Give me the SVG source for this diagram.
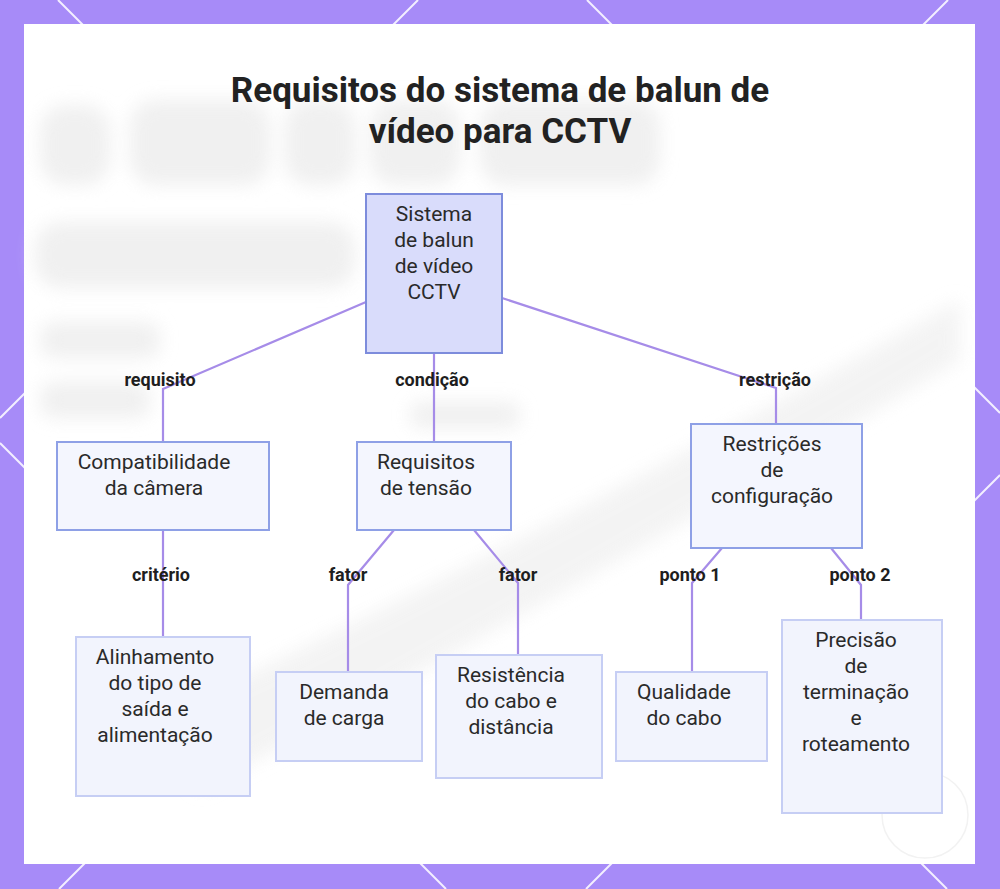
<svg xmlns="http://www.w3.org/2000/svg" width="1000" height="889" viewBox="0 0 1000 889">
<defs>
<style>
.title{font-family:Roboto,"Liberation Sans",sans-serif;font-weight:700;font-size:35px;fill:#222;text-anchor:middle}
.nt{font-family:Roboto,"Liberation Sans",sans-serif;font-size:21px;fill:#2a2a2a;text-anchor:middle}
.lbl{font-family:Roboto,"Liberation Sans",sans-serif;font-weight:700;font-size:18px;fill:#1e1e1e;text-anchor:middle}
.root{fill:#d9dcfb;stroke:#7d8cdc;stroke-width:2}
.mid{fill:#f4f6fe;stroke:#8ea0e6;stroke-width:2}
.leaf{fill:#f2f4fd;stroke:#c6cef4;stroke-width:2}
.edge{fill:none;stroke:#a68ce8;stroke-width:2.2}
.deco{stroke:#f3efff;stroke-width:2;fill:none}
</style>
<filter id="blur" x="-20%" y="-50%" width="140%" height="200%"><feGaussianBlur stdDeviation="9"/></filter>
</defs>
<rect x="0" y="0" width="1000" height="889" fill="#a78bf8"/>
<g class="deco">
<line x1="58" y1="0" x2="947" y2="889"/>
<line x1="418" y1="0" x2="0" y2="418"/>
<line x1="587" y1="0" x2="1000" y2="413"/>
<line x1="948" y1="0" x2="59" y2="889"/>
<line x1="0" y1="443" x2="446" y2="889"/>
<line x1="1000" y1="475" x2="586" y2="889"/>
</g>
<rect x="24" y="24" width="951" height="840" fill="#ffffff"/>
<g filter="url(#blur)" fill="#ebebeb" opacity="0.75">
<rect x="40" y="105" width="70" height="80" rx="25"/>
<rect x="130" y="100" width="140" height="85" rx="25"/>
<rect x="285" y="100" width="70" height="85" rx="25"/>
<rect x="370" y="100" width="90" height="85" rx="25"/>
<rect x="480" y="100" width="180" height="85" rx="25"/>
<rect x="35" y="222" width="320" height="66" rx="25"/>
<rect x="40" y="322" width="120" height="36" rx="14"/>
<rect x="40" y="382" width="110" height="36" rx="14"/>
<rect x="410" y="402" width="110" height="26" rx="10"/>
</g>
<path d="M150 720 Q500 560 960 300 L960 360 Q560 600 200 790 Z" fill="#efefef" filter="url(#blur)" opacity="0.7"/>
<circle cx="925" cy="815" r="43" fill="none" stroke="#f2f2f2" stroke-width="1.5"/>

<text class="title" x="500" y="102">Requisitos do sistema de balun de</text>
<text class="title" x="500" y="143">vídeo para CCTV</text>

<g id="connectors">
<path class="edge" d="M366 302 L163 389 L163 442"/>
<path class="edge" d="M434 353 L434 442"/>
<path class="edge" d="M502 298 L776 388 L776 424"/>
<path class="edge" d="M163 530 L163 637"/>
<path class="edge" d="M394 530 L348 585 L348 672"/>
<path class="edge" d="M474 530 L518 583 L518 655"/>
<path class="edge" d="M722 548 L692 583 L692 672"/>
<path class="edge" d="M831 548 L861 585 L861 620"/>
<text class="lbl" x="160" y="386">requisito</text>
<text class="lbl" x="432" y="386">condição</text>
<text class="lbl" x="775" y="386">restrição</text>
<text class="lbl" x="161" y="581">critério</text>
<text class="lbl" x="348" y="581">fator</text>
<text class="lbl" x="518" y="581">fator</text>
<text class="lbl" x="690" y="581">ponto 1</text>
<text class="lbl" x="860" y="581">ponto 2</text>
</g>

<g id="root">
<rect class="root" x="366" y="194" width="136" height="159"/>
<text class="nt" x="434" y="221">Sistema</text>
<text class="nt" x="434" y="247">de balun</text>
<text class="nt" x="434" y="273">de vídeo</text>
<text class="nt" x="434" y="299">CCTV</text>
</g>
<g id="compat">
<rect class="mid" x="57" y="442" width="212" height="88"/>
<text class="nt" x="154" y="469">Compatibilidade</text>
<text class="nt" x="154" y="495">da câmera</text>
</g>
<g id="tensao">
<rect class="mid" x="357" y="442" width="154" height="88"/>
<text class="nt" x="426" y="469">Requisitos</text>
<text class="nt" x="426" y="495">de tensão</text>
</g>
<g id="restricoes">
<rect class="mid" x="691" y="424" width="171" height="124"/>
<text class="nt" x="772" y="451">Restrições</text>
<text class="nt" x="772" y="477">de</text>
<text class="nt" x="772" y="503">configuração</text>
</g>
<g id="alinhamento">
<rect class="leaf" x="76" y="637" width="174" height="159"/>
<text class="nt" x="155" y="664">Alinhamento</text>
<text class="nt" x="155" y="690">do tipo de</text>
<text class="nt" x="155" y="716">saída e</text>
<text class="nt" x="155" y="742">alimentação</text>
</g>
<g id="demanda">
<rect class="leaf" x="276" y="672" width="146" height="89"/>
<text class="nt" x="344" y="699">Demanda</text>
<text class="nt" x="344" y="725">de carga</text>
</g>
<g id="resistencia">
<rect class="leaf" x="436" y="655" width="166" height="123"/>
<text class="nt" x="511" y="682">Resistência</text>
<text class="nt" x="511" y="708">do cabo e</text>
<text class="nt" x="511" y="734">distância</text>
</g>
<g id="qualidade">
<rect class="leaf" x="616" y="672" width="151" height="89"/>
<text class="nt" x="684" y="699">Qualidade</text>
<text class="nt" x="684" y="725">do cabo</text>
</g>
<g id="precisao">
<rect class="leaf" x="782" y="620" width="160" height="193"/>
<text class="nt" x="856" y="647">Precisão</text>
<text class="nt" x="856" y="673">de</text>
<text class="nt" x="856" y="699">terminação</text>
<text class="nt" x="856" y="725">e</text>
<text class="nt" x="856" y="751">roteamento</text>
</g>
</svg>
